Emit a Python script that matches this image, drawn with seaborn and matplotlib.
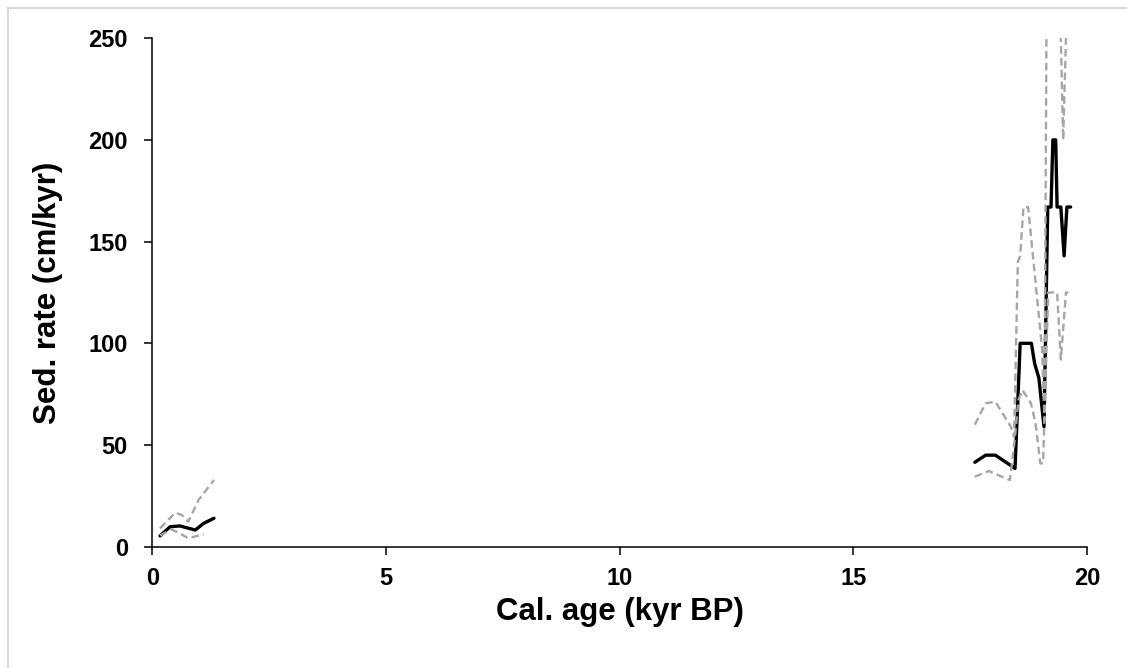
import matplotlib
matplotlib.use("Agg")
import matplotlib.pyplot as plt
import seaborn as sns
import pandas as pd
from matplotlib.lines import Line2D

# ---- data ----
# Holocene segment
hol_age = [0.165, 0.38, 0.59, 0.92, 1.10, 1.32]
hol_rate = [5.3, 9.8, 10.2, 8.2, 11.5, 14.0]
hol_upper_age = [0.165, 0.49, 0.63, 0.77, 0.99, 1.32]
hol_upper = [9.0, 16.7, 15.6, 12.3, 23.0, 32.8]
hol_lower_age = [0.165, 0.41, 0.59, 0.77, 1.10]
hol_lower = [5.5, 8.5, 6.6, 4.1, 6.2]

# Glacial segment
gla_age = [17.60, 17.83, 18.04, 18.46, 18.57, 18.81, 18.88, 18.97, 19.08,
           19.16, 19.23, 19.27, 19.33, 19.36, 19.44, 19.51, 19.57, 19.65]
gla_rate = [41.5, 45.0, 45.0, 38.5, 100.0, 100.0, 90.0, 83.0, 59.0,
            167.0, 167.0, 200.0, 200.0, 167.0, 167.0, 143.0, 167.0, 167.0]
gla_upper_age = [17.60, 17.83, 18.04, 18.37, 18.44, 18.52, 18.57, 18.64, 18.74,
                 19.04, 19.09, 19.15, 19.40, 19.44, 19.49, 19.55, 19.62]
gla_upper = [60.0, 70.5, 71.3, 59.0, 54.0, 140.0, 143.0, 167.0, 167.0,
             97.0, 62.0, 333.0, 333.0, 250.0, 200.0, 250.0, 250.0]
gla_lower_age = [17.60, 17.90, 18.26, 18.35, 18.46, 18.53, 18.62, 18.80, 18.90,
                 19.00, 19.06, 19.17, 19.29, 19.36, 19.44, 19.55, 19.60]
gla_lower = [34.4, 37.2, 33.6, 32.8, 54.0, 72.0, 77.0, 70.5, 60.7,
             41.0, 41.0, 125.0, 125.0, 125.0, 92.0, 125.0, 125.0]

x_ticks = [0, 5, 10, 15, 20]
y_ticks = [0, 50, 100, 150, 200, 250]
x_label = "Cal. age (kyr BP)"
y_label = "Sed. rate (cm/kyr)"

# ---- style ----
sns.set_style("ticks")
plt.rcParams["font.family"] = ["Liberation Sans", "DejaVu Sans"]
plt.rcParams["font.weight"] = "bold"
plt.rcParams["text.color"] = "black"
plt.rcParams["axes.labelcolor"] = "black"
plt.rcParams["xtick.color"] = "black"
plt.rcParams["ytick.color"] = "black"

W, H = 1127, 668
fig = plt.figure(figsize=(W / 100, H / 100), dpi=100)
ax = fig.add_axes([152.3 / W, (H - 546.7) / H, (1087 - 152.3) / W, (546.7 - 38.2) / H])

black_kw = dict(color="black", linewidth=2.4, sort=False, estimator=None)
gray_kw = dict(color="#A6A6A6", linewidth=1.7, sort=False, estimator=None,
               linestyle=(0, (3.2, 1.8)))

for a, r in [(hol_age, hol_rate), (gla_age, gla_rate)]:
    sns.lineplot(x=a, y=r, ax=ax, **black_kw)
for a, r in [(hol_lower_age, hol_lower), (hol_upper_age, hol_upper),
             (gla_lower_age, gla_lower), (gla_upper_age, gla_upper)]:
    sns.lineplot(x=a, y=r, ax=ax, **gray_kw)

ax.set_xlim(0, 20)
ax.set_ylim(0, 250)
ax.set_xticks(x_ticks)
ax.set_yticks(y_ticks)
ax.set_xticklabels([str(t) for t in x_ticks], fontsize=17, fontweight="bold", color="black")
ax.set_yticklabels([str(t) for t in y_ticks], fontsize=17, fontweight="bold", color="black")
ax.tick_params(axis="both", direction="out", length=5.5, width=1.1, color="black")
ax.tick_params(axis="y", pad=12)
ax.tick_params(axis="x", pad=9)
ax.set_xlabel(x_label, fontsize=22.5, fontweight="bold", labelpad=5, color="black")
ax.set_ylabel(y_label, fontsize=22.5, fontweight="bold", labelpad=18, color="black")
sns.despine(ax=ax)
for s in ["left", "bottom"]:
    ax.spines[s].set_linewidth(1.1)
    ax.spines[s].set_color("black")

# light outer chart border (left and top visible in the reference)
bc = "#D9D9D9"
fig.add_artist(Line2D([7.5 / W, 7.5 / W], [0, 1 - 7.5 / H], color=bc, linewidth=1.5,
                      transform=fig.transFigure))
fig.add_artist(Line2D([7.5 / W, 1], [1 - 7.5 / H, 1 - 7.5 / H], color=bc, linewidth=1.5,
                      transform=fig.transFigure))

fig.savefig("out.png", dpi=100)
